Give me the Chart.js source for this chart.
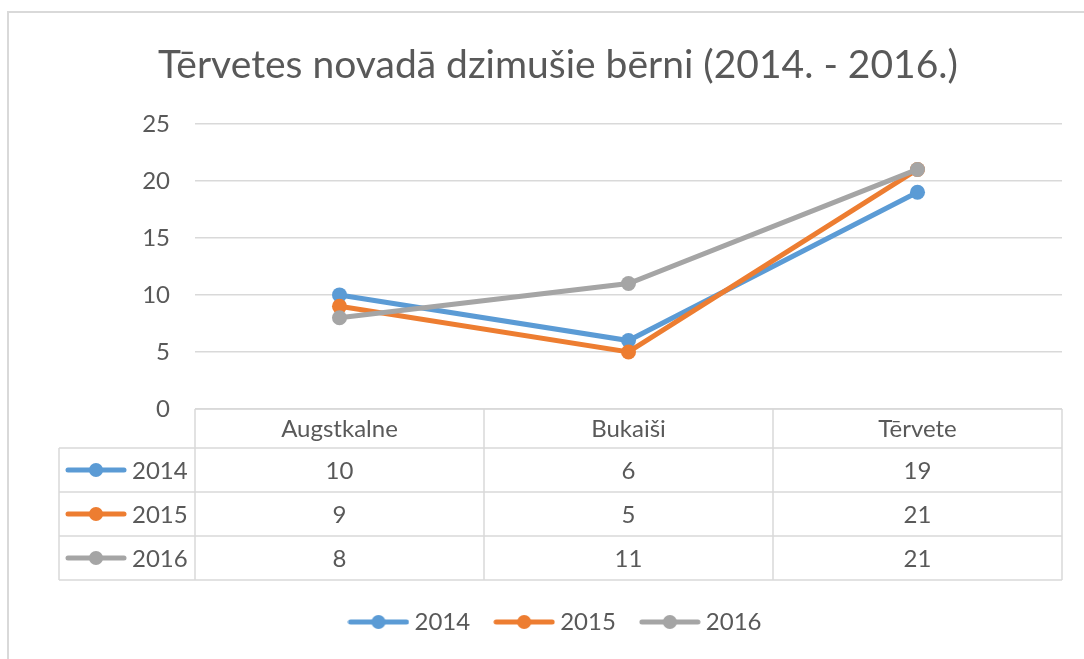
<!DOCTYPE html>
<html>
<head>
<meta charset="utf-8">
<script src="https://cdn.jsdelivr.net/npm/chart.js@4.4.0/dist/chart.umd.min.js"></script>
<style>
    html, body { margin: 0; padding: 0; background: #fff; }
    #wrap { width: 1084px; height: 659px; }
</style>
</head>
<body>
<div id="wrap"><canvas id="lineChart" width="1084" height="659"></canvas></div>
<script>
// Chart data
var categories = ["Augstkalne", "Bukaiši", "Tērvete"];
var years = ["2014", "2015", "2016"];
var values2014 = [10, 6, 19];
var values2015 = [9, 5, 21];
var values2016 = [8, 11, 21];
var yTicks = [0, 5, 10, 15, 20, 25];
var chartTitle = "Tērvetes novadā dzimušie bērni (2014. - 2016.)";

var colors = ["#5B9BD5", "#ED7D31", "#A5A5A5"];
var textColor = "#595959";
var lineColor = "#D9D9D9";
var fontName = "Lato, 'Open Sans', sans-serif";
var series = [values2014, values2015, values2016];

// Small "line with a dot" icons used by the legend and the table rows
function makeIcon(color) {
    var c = document.createElement('canvas');
    c.width = 62;
    c.height = 16;
    var g = c.getContext('2d');
    g.strokeStyle = color;
    g.lineWidth = 5;
    g.lineCap = 'round';
    g.beginPath();
    g.moveTo(3, 8);
    g.lineTo(59, 8);
    g.stroke();
    g.fillStyle = color;
    g.beginPath();
    g.arc(31, 8, 7, 0, Math.PI * 2);
    g.fill();
    return c;
}
var icons = colors.map(makeIcon);

// Draws the outer frame and the data table under the plot
var tablePlugin = {
    id: 'dataTable',
    beforeDraw: function (chart) {
        var ctx = chart.ctx;
        ctx.save();
        ctx.strokeStyle = lineColor;
        ctx.lineWidth = 2;
        ctx.beginPath();
        ctx.moveTo(8, chart.height);
        ctx.lineTo(8, 12);
        ctx.lineTo(chart.width, 12);
        ctx.stroke();
        ctx.restore();
    },
    afterDraw: function (chart) {
        var ctx = chart.ctx;
        var area = chart.chartArea;
        var xScale = chart.scales.x;
        var step = area.width / categories.length;
        var tableLeft = 59;
        var headH = 39;
        var rowH = 44;
        var top = area.bottom;
        var bottom = top + headH + rowH * years.length;

        ctx.save();
        ctx.strokeStyle = lineColor;
        ctx.lineWidth = 1.5;
        ctx.beginPath();
        // horizontal lines
        ctx.moveTo(area.left, top);
        ctx.lineTo(area.right, top);
        for (var r = 0; r <= years.length; r++) {
            var yy = top + headH + r * rowH;
            ctx.moveTo(tableLeft, yy);
            ctx.lineTo(area.right, yy);
        }
        // vertical lines
        ctx.moveTo(tableLeft, top + headH);
        ctx.lineTo(tableLeft, bottom);
        for (var i = 0; i <= categories.length; i++) {
            var xx = area.left + i * step;
            ctx.moveTo(xx, top);
            ctx.lineTo(xx, bottom);
        }
        ctx.stroke();

        ctx.fillStyle = textColor;
        ctx.font = "24px " + fontName;
        ctx.textAlign = 'center';
        ctx.textBaseline = 'middle';
        for (var j = 0; j < categories.length; j++) {
            var cx = xScale.getPixelForValue(j);
            ctx.fillText(categories[j], cx, top + headH / 2 + 1);
            for (var s = 0; s < series.length; s++) {
                ctx.fillText(series[s][j], cx, top + headH + s * rowH + rowH / 2 + 1);
            }
        }
        ctx.textAlign = 'left';
        for (var k = 0; k < years.length; k++) {
            var cy = top + headH + k * rowH + rowH / 2;
            ctx.drawImage(icons[k], 65, cy - 8);
            ctx.fillText(years[k], 132, cy + 1);
        }
        ctx.restore();
    }
};

var datasets = years.map(function (year, i) {
    return {
        label: year,
        data: series[i],
        borderColor: colors[i],
        backgroundColor: colors[i],
        pointBackgroundColor: colors[i],
        pointBorderColor: colors[i],
        borderWidth: 5,
        pointRadius: 7.5,
        pointBorderWidth: 0,
        pointHoverRadius: 7.5,
        tension: 0,
        order: years.length - i
    };
});

var ctx = document.getElementById('lineChart').getContext('2d');
var myChart = new Chart(ctx, {
    type: 'line',
    data: {
        labels: categories,
        datasets: datasets
    },
    plugins: [tablePlugin],
    options: {
        responsive: false,
        animation: false,
        layout: {
            padding: { left: 54, right: 22, top: 0, bottom: 15 }
        },
        scales: {
            x: {
                offset: true,
                grid: { display: false },
                border: { display: false },
                ticks: { display: false },
                afterFit: function (scale) { scale.height = 171; }
            },
            y: {
                min: yTicks[0],
                max: yTicks[yTicks.length - 1],
                afterBuildTicks: function (scale) {
                    scale.ticks = yTicks.map(function (v) { return { value: v }; });
                },
                grid: {
                    color: lineColor,
                    lineWidth: 1.5,
                    drawTicks: false
                },
                border: { display: false },
                ticks: {
                    padding: 25,
                    color: textColor,
                    font: { size: 24, family: fontName }
                },
                afterFit: function (scale) { scale.width = 141; }
            }
        },
        plugins: {
            title: {
                display: true,
                text: chartTitle,
                color: textColor,
                font: { size: 39, weight: 'normal', family: fontName },
                padding: { top: 42, bottom: 35 }
            },
            legend: {
                position: 'bottom',
                labels: {
                    usePointStyle: true,
                    pointStyleWidth: 48,
                    padding: 30,
                    color: textColor,
                    font: { size: 24, family: fontName },
                    generateLabels: function (chart) {
                        return years.map(function (year, i) {
                            return {
                                text: year,
                                pointStyle: icons[i],
                                fillStyle: colors[i],
                                strokeStyle: colors[i],
                                lineWidth: 0,
                                fontColor: textColor,
                                hidden: false,
                                datasetIndex: i
                            };
                        });
                    }
                }
            },
            tooltip: { enabled: false }
        }
    }
});
</script>
</body>
</html>
